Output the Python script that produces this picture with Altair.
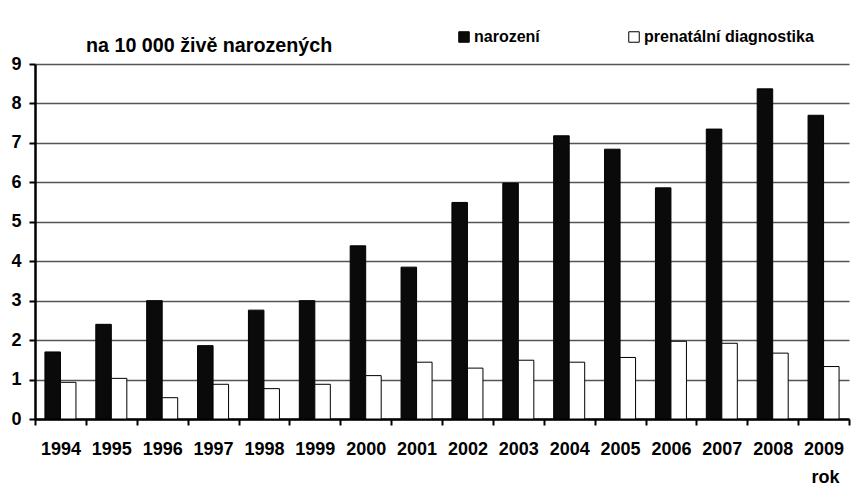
import altair as alt
import pandas as pd

years = [str(y) for y in range(1994, 2010)]
narozeni = [1.70, 2.40, 3.00, 1.86, 2.76, 3.00, 4.39, 3.85, 5.49, 5.98, 7.18, 6.84, 5.86, 7.35, 8.37, 7.70]
prenatalni = [0.93, 1.03, 0.54, 0.88, 0.77, 0.88, 1.10, 1.44, 1.29, 1.49, 1.44, 1.56, 1.97, 1.92, 1.67, 1.33]
series = ["narození", "prenatální diagnostika"]
y_ticks = [0, 1, 2, 3, 4, 5, 6, 7, 8, 9]
title_text = "na 10 000 živě narozených"
x_title = "rok"

rows = []
for i, yr in enumerate(years):
    rows.append({"rok": yr, "serie": series[0], "hodnota": narozeni[i]})
    rows.append({"rok": yr, "serie": series[1], "hodnota": prenatalni[i]})
df = pd.DataFrame(rows)

FONT = "Liberation Sans"

chart = alt.Chart(df).mark_bar(stroke="black", strokeWidth=1).encode(
    x=alt.X(
        "rok:N",
        sort=years,
        scale=alt.Scale(paddingInner=0, paddingOuter=0),
        axis=alt.Axis(
            title=x_title,
            labelAngle=0,
            tickBand="extent",
            ticks=True,
            tickSize=6,
            tickWidth=2,
            tickColor="black",
            domainColor="black",
            domainWidth=2.5,
            labelFont=FONT,
            labelFontSize=18,
            labelFontWeight="bold",
            labelColor="black",
            labelPadding=15,
            titleFont=FONT,
            titleFontSize=18,
            titleFontWeight="bold",
            titleColor="black",
            titleAlign="right",
            titleAnchor="end",
            titleX=804,
            titleY=63,
            titleBaseline="alphabetic",
            grid=False,
        ),
    ),
    xOffset=alt.XOffset(
        "serie:N",
        sort=series,
        scale=alt.Scale(paddingOuter=0.64, paddingInner=0),
    ),
    y=alt.Y(
        "hodnota:Q",
        scale=alt.Scale(domain=[0, 9], nice=False),
        axis=alt.Axis(
            title=None,
            values=y_ticks,
            grid=True,
            gridColor="#555555",
            gridWidth=1.5,
            tickSize=6,
            tickWidth=2,
            tickColor="black",
            domainColor="black",
            domainWidth=2.5,
            labelFont=FONT,
            labelFontSize=18,
            labelFontWeight="bold",
            labelColor="black",
            labelPadding=8,
        ),
    ),
    fill=alt.Fill(
        "serie:N",
        sort=series,
        scale=alt.Scale(domain=series, range=["#0a0a0a", "#ffffff"]),
        legend=alt.Legend(
            title=None,
            orient="none",
            legendX=421,
            legendY=-35,
            direction="horizontal",
            symbolType="square",
            symbolSize=110,
            symbolStrokeColor="black",
            symbolStrokeWidth=1,
            labelFont=FONT,
            labelFontSize=16,
            labelFontWeight="bold",
            labelColor="black",
            labelOffset=2,
            labelLimit=400,
            columnPadding=86,
        ),
    ),
).properties(
    width=814,
    height=355,
    title=alt.TitleParams(
        title_text,
        anchor="start",
        frame="group",
        dx=51,
        dy=41,
        font=FONT,
        fontSize=19.7,
        fontWeight="bold",
        color="black",
        offset=14,
    ),
    autosize=alt.AutoSizeParams(type="none"),
    padding={"left": 27, "top": 56, "right": 6, "bottom": 74},
).configure_view(strokeWidth=0)

chart.save("out.html", embed_options={"renderer": "svg", "actions": False})
